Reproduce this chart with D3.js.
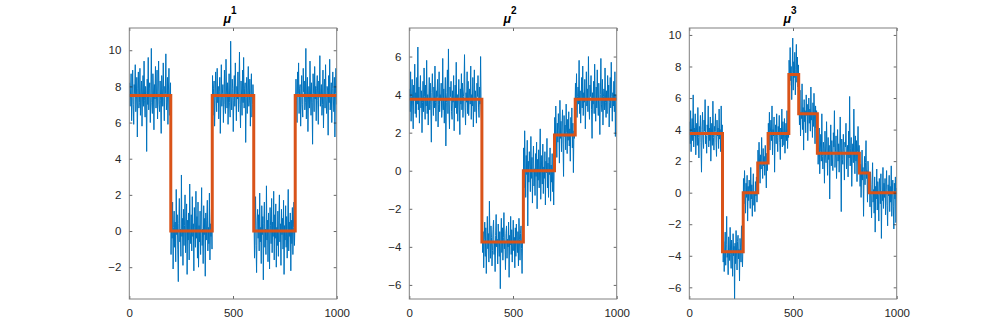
<!DOCTYPE html>
<html><head><meta charset="utf-8">
<script src="https://cdn.jsdelivr.net/npm/d3@7"></script>
<style>body{margin:0;background:#fff}svg{display:block}</style>
</head><body><svg id="c" width="997" height="336"></svg>
<script>
const xTicks=[0,500,1000];
const xDomain=[0,1000];
const titles=["1","2","3"];

// Panel 1
const p1Breaks=[0,200,400,600,800,1000];
const p1Levels=[7.5,0,7.5,0,7.5];
const p1YDomain=[-3.76,11.23];
const p1YTicks=[-2,0,2,4,6,8,10];
const p1Signal=[
[8.2,6.9,7.8,8.7,6.1,7.4,8.9,7.0,5.9,8.1,7.6,9.2,6.6,7.3,8.5,5.2,7.9,8.8,6.8,7.1,
9.0,6.4,7.7,8.3,5.8,7.5,8.6,6.9,9.4,7.2,6.3,8.0,7.6,4.4,8.4,7.0,9.6,6.7,7.9,8.2,
6.0,7.4,10.1,7.1,6.5,8.7,7.8,5.6,8.1,7.3,9.1,6.8,7.5,8.9,6.2,7.7,9.4,7.0,6.6,8.3,
7.2,5.4,8.6,7.9,6.9,9.3,7.4,6.1,8.0,7.6,9.8,6.7,7.1,8.5,5.9,7.8,9.0,6.4,7.3,8.2],
[-1.3,0.8,-0.4,1.6,-2.1,0.2,1.1,-0.9,0.5,-1.7,2.3,-0.2,0.9,-1.0,-2.8,0.4,1.8,-0.6,0.1,-1.4,
3.1,-0.3,0.7,-1.9,1.2,-0.8,0.3,2.0,-1.2,-0.1,1.5,-2.4,0.6,-0.5,1.0,-1.6,2.6,0.0,-0.7,0.9,
-1.1,1.9,-0.3,0.4,-2.2,1.3,0.2,-0.9,2.2,-0.4,0.8,-1.5,1.6,-2.0,0.3,-0.6,1.1,-1.3,0.5,2.4,
-0.8,0.1,-1.8,1.4,-0.2,0.7,-2.5,1.0,-0.5,0.6,1.7,-1.1,0.2,-0.7,2.1,-1.6,0.4,-0.3,1.2,-1.0],
[8.6,6.4,7.9,8.3,5.8,7.2,8.8,7.5,6.6,9.0,7.1,8.0,6.2,7.7,8.5,5.4,7.3,9.2,6.9,7.6,
8.1,6.0,7.4,8.9,7.0,6.5,9.5,7.8,6.8,8.2,5.9,7.5,8.7,7.1,6.3,10.5,7.4,6.7,8.4,7.9,
5.5,7.2,8.6,6.9,9.3,7.6,6.1,8.0,7.3,8.8,6.6,7.7,9.9,7.0,5.7,8.3,7.5,6.4,8.9,7.1,
9.6,6.8,7.9,8.2,4.9,7.4,8.5,6.5,7.8,9.1,6.9,7.2,8.4,5.8,7.6,8.7,6.3,7.0,8.1,7.3],
[0.7,-1.5,0.3,1.9,-0.8,-2.3,0.5,1.2,-0.4,0.9,-1.1,2.1,-0.6,0.2,-1.8,1.4,-0.2,0.8,-2.7,0.4,
1.6,-0.9,0.1,-1.3,2.5,-0.5,0.6,-1.7,1.0,-0.1,-2.1,1.3,0.3,-0.7,1.8,-1.2,0.5,-0.3,2.2,-1.6,
0.9,-0.4,1.5,-2.0,0.2,-0.8,1.1,-1.4,0.6,2.0,-0.6,0.4,-1.9,1.2,-0.2,0.7,-1.0,1.7,-2.4,0.3,
-0.5,1.4,-0.9,0.8,-1.5,0.1,2.3,-1.1,0.5,-0.3,1.0,-2.2,0.6,-0.7,1.3,-1.3,0.2,1.6,-0.8,0.4],
[6.9,8.4,7.2,6.0,8.8,7.6,9.3,6.5,7.9,8.1,5.8,7.4,8.6,7.0,6.3,9.0,7.7,8.3,6.7,7.1,
10.1,6.2,7.8,8.5,5.5,7.3,8.0,6.8,9.4,7.5,6.4,8.2,7.1,4.8,8.7,7.6,6.6,9.1,7.3,8.0,
6.1,7.9,8.6,7.2,5.9,8.3,7.4,9.7,6.9,7.7,8.1,6.4,7.0,8.9,5.7,7.5,8.4,6.8,9.2,7.2,
6.5,8.0,7.8,5.3,8.6,7.1,9.5,6.7,7.4,8.2,6.0,7.9,8.8,7.3,6.6,8.5,5.2,7.6,9.0,7.0]
];

// Panel 2
const p2Breaks=[0,350,550,700,800,1000];
const p2Levels=[3.75,-3.75,0,1.875,3.75];
const p2YDomain=[-6.74,7.5];
const p2YTicks=[-6,-4,-2,0,2,4,6];
const p2Signal=[
[4.3,3.1,5.2,2.6,3.9,4.8,3.4,2.2,4.5,3.7,5.6,3.0,4.1,2.8,4.9,3.5,6.5,3.2,4.4,2.5,
3.8,5.0,3.3,4.2,2.0,3.6,4.7,3.1,5.4,3.9,2.7,4.5,3.4,5.8,3.0,4.0,2.4,3.7,4.9,3.2,
4.6,3.5,1.5,4.1,5.1,3.8,2.9,4.4,3.3,5.5,3.6,2.6,4.2,3.9,4.8,2.3,3.5,5.2,3.1,4.0,
3.7,4.6,2.8,3.4,5.9,3.2,4.3,2.5,3.8,4.9,1.3,3.6,4.1,5.3,3.0,6.4,3.5,2.2,4.4,3.9,
4.7,3.1,2.7,4.2,3.6,5.0,2.1,3.8,4.5,3.3,5.7,3.0,4.0,2.6,3.7,4.8,3.4,1.9,4.3,3.5,
5.1,3.2,4.6,2.8,3.9,4.4,6.1,3.3,2.4,4.1,3.6,5.2,3.0,4.7,2.9,3.8,4.3,3.5,5.5,2.7,
4.0,3.4,4.9,2.3,3.7,5.3,3.1,4.2,3.6,2.5,4.6,3.9,5.0,3.3,2.8,4.4,3.5,6.0,3.2,2.4],
[-2.1,-4.3,-3.2,-5.1,-3.6,-2.7,-4.5,-3.0,-5.4,-3.9,-2.4,-4.1,-3.3,-4.8,-1.6,-3.7,-4.6,-2.9,-3.5,-5.0,
-4.2,-3.1,-2.6,-4.4,-3.8,-5.3,-3.4,-2.3,-4.0,-3.6,-4.9,-2.8,-3.9,-4.5,-3.2,-6.2,-3.7,-2.5,-4.3,-3.0,
-4.7,-3.5,-2.2,-4.1,-3.8,-5.2,-3.3,-2.9,-4.6,-3.6,-4.0,-2.7,-5.6,-3.4,-3.9,-2.4,-4.4,-3.1,-4.8,-3.7,
-2.6,-4.2,-3.5,-5.1,-3.0,-4.5,-2.8,-3.8,-4.3,-3.2,-5.0,-2.5,-3.6,-4.7,-3.3,-2.9,-4.1,-5.4,-3.4,-2.8],
[1.2,-0.9,2.1,0.3,-1.4,0.8,-0.2,1.6,-2.9,0.5,-0.6,1.0,0.2,-1.1,1.8,-0.4,0.7,-1.7,0.4,1.3,
-0.8,0.1,-1.3,0.9,-0.3,1.5,-2.0,0.6,-0.5,1.1,-0.9,0.3,2.2,-1.5,0.0,0.8,-0.7,1.4,-1.2,0.2,
-0.4,1.0,-1.8,0.5,-0.1,1.7,-0.9,0.4,-1.4,0.7,-0.2,1.2,-1.6,0.3,-0.6,0.9,-1.1,0.1,-1.8,0.6],
[2.8,1.2,3.4,1.9,0.7,2.5,1.5,3.0,2.1,0.4,3.7,1.7,2.6,1.0,2.3,3.2,1.4,-0.3,2.9,1.8,
2.4,1.1,3.5,2.0,0.9,2.7,1.6,3.1,1.3,2.2,0.5,2.8,1.9,3.3,1.2,2.5,-0.1,2.1,1.7,3.0],
[4.6,3.2,5.1,2.8,3.9,4.4,3.5,5.8,3.0,4.2,2.5,3.7,4.9,3.3,5.5,2.9,4.1,3.6,4.8,2.2,
3.8,5.2,3.4,4.3,3.1,6.0,3.6,2.7,4.5,3.9,5.0,3.2,1.7,4.1,3.5,4.7,3.0,5.6,3.8,2.6,
4.4,3.3,5.3,3.7,2.9,4.6,3.4,1.9,4.0,5.9,3.5,3.1,4.8,2.4,3.9,4.3,3.2,5.4,3.6,2.8,
4.2,3.0,5.0,3.8,4.5,2.3,3.6,4.9,3.3,5.7,3.9,2.6,4.1,3.4,4.7,3.1,5.2,1.8,4.0,3.7]
];

// Panel 3
const p3Breaks=[0,160,260,330,380,480,527.5,617.5,820,867.5,1000];
const p3Levels=[3.75,-3.75,0,1.875,3.75,7.5,5,2.5,1.25,0];
const p3YDomain=[-6.74,10.44];
const p3YTicks=[-6,-4,-2,0,2,4,6,8,10];
const p3Signal=[
[4.5,3.1,5.2,2.6,3.9,4.7,3.3,6.2,2.9,4.1,3.6,5.0,2.4,3.8,4.4,3.0,5.4,3.5,2.2,4.2,
3.7,4.9,3.2,1.3,4.0,5.1,3.4,2.8,4.6,3.9,5.9,3.1,3.6,2.5,4.3,3.8,5.5,2.9,4.1,3.3,
4.8,2.0,3.7,4.4,3.0,5.8,3.5,2.7,4.2,3.9,5.0,3.2,2.3,4.6,3.6,4.1,2.8,5.3,3.4,4.0,
2.6,5.5,3.2,4.3],
[-2.0,-4.4,-3.1,-5.0,-3.7,-2.5,-4.6,-3.3,-1.5,-4.1,-3.8,-5.2,-2.8,-3.5,-4.3,-2.2,-3.9,-4.8,-3.0,-3.6,
-5.3,-2.6,-4.0,-3.4,-6.9,-3.2,-4.5,-2.4,-3.8,-4.9,-3.1,-2.7,-4.2,-3.6,-5.6,-2.9,-3.5,-4.4,-2.1,-3.9,
-4.7,-3.3],
[0.9,-0.7,1.4,0.2,-1.3,0.6,-0.3,1.1,-1.8,0.4,-0.5,0.8,0.1,-1.0,1.6,-0.4,0.5,-1.5,0.3,1.2,
-0.8,0.0,-1.2,0.7,-0.2,1.0,-0.6,0.4],
[2.7,1.3,3.2,1.9,0.6,2.4,1.5,3.5,2.0,0.9,2.8,1.7,2.3,1.1,3.0,1.8,0.3,2.5,1.4,2.2],
[4.4,3.0,5.1,2.7,3.9,4.6,3.3,5.5,2.4,4.0,3.6,4.8,1.3,3.8,4.3,3.1,5.0,3.5,2.6,4.2,
3.7,4.9,3.2,2.1,4.1,3.4,5.3,2.9,4.5,3.8,3.0,4.7,2.5,3.6,4.4,3.3,5.2,2.8,4.0,3.5],
[8.4,6.8,9.2,7.1,8.0,5.9,7.6,9.8,6.5,8.3,7.3,8.9,6.2,7.8,9.4,7.0,8.6,6.7,8.1],
[5.8,4.3,6.5,3.6,5.1,4.7,6.9,4.0,5.4,2.7,5.9,4.5,5.2,3.8,6.2,4.9,5.6,3.3,4.8,6.0,
4.4,5.3,3.9,6.7,4.6,5.0,3.5,5.7,4.2,6.3,4.8,3.1,5.5,4.1,5.2,4.6],
[3.4,1.8,2.9,4.1,1.2,2.6,3.7,2.0,5.0,2.3,1.5,3.2,2.8,0.6,3.9,2.4,1.9,4.5,2.7,1.1,
3.5,2.1,3.0,-0.4,2.5,4.3,1.7,3.3,2.2,1.4,3.8,2.9,5.2,1.6,2.6,3.6,0.9,2.3,4.0,2.0,
3.1,1.3,2.7,4.8,2.4,-1.2,3.4,2.1,1.8,3.7,2.6,0.8,3.2,2.9,4.4,1.5,2.5,3.0,1.0,3.9,
2.2,6.1,1.7,2.8,3.5,0.4,2.4,3.1,1.9,5.3,2.7,1.2,3.6,2.0,3.3,0.7,2.6,4.2,1.6,3.0],
[2.1,0.4,1.8,-0.3,1.3,2.7,0.8,1.6,-1.5,1.0,2.3,0.5,1.9,3.3,0.9,1.4,-0.6,2.0,1.1,0.2],
[0.8,-0.9,1.3,-0.2,-1.6,0.5,1.9,-0.6,0.2,-1.3,1.0,-2.5,0.4,-0.4,1.5,-1.1,0.7,-0.1,-1.8,0.9,
0.3,-0.7,1.2,-2.9,0.1,-0.5,1.6,-1.0,0.6,-0.3,0.9,-1.4,0.2,1.4,-0.8,-2.1,0.5,-0.2,1.1,-1.2,
0.4,-0.6,1.7,-1.5,0.0,0.8,-0.9,-2.3,0.6,-0.4,1.0,-1.9,0.3]
];

const panels=[
  {left:129.3,breaks:p1Breaks,levels:p1Levels,signal:p1Signal,yDomain:p1YDomain,yTicks:p1YTicks,title:titles[0]},
  {left:409.3,breaks:p2Breaks,levels:p2Levels,signal:p2Signal,yDomain:p2YDomain,yTicks:p2YTicks,title:titles[1]},
  {left:689.3,breaks:p3Breaks,levels:p3Levels,signal:p3Signal,yDomain:p3YDomain,yTicks:p3YTicks,title:titles[2]}
];

const W=207.4, TOP=28, H=271;
const FONT='"Liberation Sans", Arial, Helvetica, sans-serif';
const AX='#262626', BOX='#808080';
const svg=d3.select('#c');
svg.append('rect').attr('width',997).attr('height',336).attr('fill','#fff');

panels.forEach((p,pi)=>{
  const g=svg.append('g').attr('transform',`translate(${p.left},${TOP})`);
  const x=d3.scaleLinear().domain(xDomain).range([0,W]);
  const y=d3.scaleLinear().domain(p.yDomain).range([H,0]);

  const clipId='clip'+pi;
  g.append('clipPath').attr('id',clipId).append('rect').attr('width',W).attr('height',H);

  const pts=[];
  p.signal.forEach((seg,k)=>{
    const x0=p.breaks[k], x1=p.breaks[k+1], m=seg.length;
    seg.forEach((v,j)=>pts.push([x0+(j+0.5)*(x1-x0)/m, v]));
  });
  const line=d3.line().x(d=>x(d[0])).y(d=>y(d[1]));
  const plot=g.append('g').attr('clip-path',`url(#${clipId})`);
  plot.append('path').attr('d',line(pts)).attr('fill','none')
    .attr('stroke','#0072BD').attr('stroke-width',1).attr('stroke-linejoin','round');

  const stepPts=p.levels.map((l,k)=>[p.breaks[k],l]);
  stepPts.push([p.breaks[p.breaks.length-1],p.levels[p.levels.length-1]]);
  const stepLine=d3.line().x(d=>x(d[0])).y(d=>y(d[1])).curve(d3.curveStepAfter);
  plot.append('path').attr('d',stepLine(stepPts)).attr('fill','none')
    .attr('stroke','#D95319').attr('stroke-width',3).attr('stroke-linejoin','miter');

  const styleAxis=(sel)=>{
    sel.selectAll('.domain').remove();
    sel.selectAll('line').attr('stroke',AX).attr('stroke-width',0.7);
    sel.selectAll('text').attr('fill',AX).style('font-family',FONT).style('font-size','11.5px');
  };
  const fmt=d3.format('d');
  g.append('g').call(d3.axisLeft(y).tickValues(p.yTicks).tickFormat(fmt).tickSizeInner(-3).tickSizeOuter(0).tickPadding(8)).call(styleAxis);
  g.append('g').attr('transform',`translate(${W},0)`).call(d3.axisRight(y).tickValues(p.yTicks).tickSizeInner(-3).tickSizeOuter(0).tickFormat('')).call(styleAxis);
  g.append('g').attr('transform',`translate(0,${H})`).call(d3.axisBottom(x).tickValues(xTicks).tickFormat(fmt).tickSizeInner(-3).tickSizeOuter(0).tickPadding(10)).call(styleAxis);
  g.append('g').call(d3.axisTop(x).tickValues(xTicks).tickSizeInner(-3).tickSizeOuter(0).tickFormat('')).call(styleAxis);

  g.append('rect').attr('width',W).attr('height',H).attr('fill','none')
    .attr('stroke',BOX).attr('stroke-width',1);

  const t=svg.append('text').attr('x',p.left+W/2-3).attr('y',23)
    .attr('text-anchor','middle').style('font-family',FONT).attr('fill','#000');
  t.append('tspan').text('μ').style('font-weight','bold').style('font-style','italic').style('font-size','12.5px');
  t.append('tspan').text(p.title).attr('dy',-9).style('font-weight','bold').style('font-size','10px');
});
</script>
</body></html>
